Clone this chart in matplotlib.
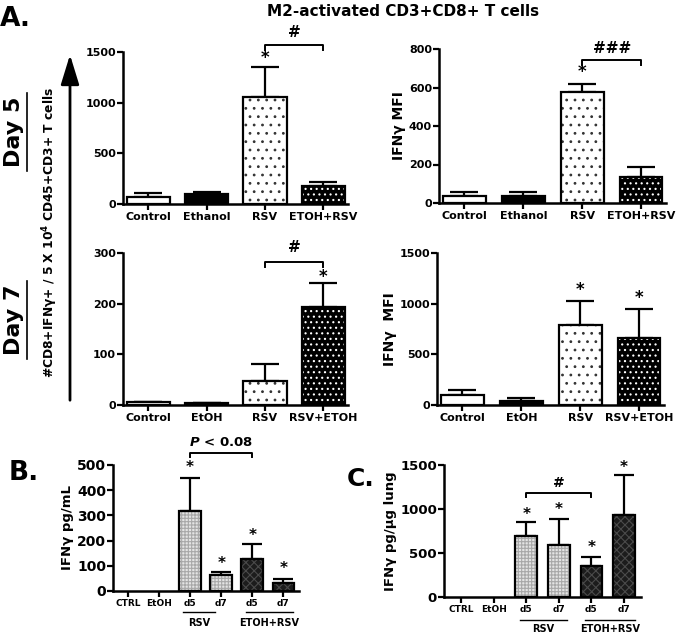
import numpy as np
import matplotlib
matplotlib.use("Agg")
import matplotlib.pyplot as plt

plt.rcParams['font.family'] = ['DejaVu Sans']
plt.rcParams['font.weight'] = 'bold'
plt.rcParams['hatch.linewidth'] = 0.8

W, H = 677, 634

# ---- data ----
a5_cats = ['Control', 'Ethanol', 'RSV', 'ETOH+RSV']
a5_cells = [70, 100, 1060, 180]
a5_cells_sem = [35, 20, 295, 35]
a5_mfi = [36, 34, 575, 135]
a5_mfi_sem = [22, 24, 42, 50]

a7_cats = ['Control', 'EtOH', 'RSV', 'RSV+ETOH']
a7_cells = [5, 3, 48, 193]
a7_cells_sem = [1, 1, 32, 47]
a7_mfi = [99, 40, 785, 665]
a7_mfi_sem = [45, 30, 240, 285]

bc_cats = ['CTRL', 'EtOH', 'd5', 'd7', 'd5', 'd7']
b_vals = [0, 0, 317, 62, 126, 32]
b_sem = [0, 0, 132, 12, 60, 15]
c_vals = [0, 0, 695, 595, 355, 935]
c_sem = [0, 0, 160, 295, 100, 450]

# pattern for each group: (face, hatch, hatch colour)
a_styles = [('white', None, 'black'), ('black', None, 'black'),
            ('white', '..', '#333333'), ('black', '...', 'white')]
bc_styles = [('white', None, 'black'), ('white', None, 'black'),
             ('#e4e4e4', '+++++', '#a8a8a8'), ('#e4e4e4', '+++++', '#a8a8a8'),
             ('#1c1c1c', 'xxxx', '#4a4a4a'), ('#1c1c1c', 'xxxx', '#4a4a4a')]


def px_axes(l, r, b, t):
    return fig.add_axes([l / W, 1 - b / H, (r - l) / W, (b - t) / H])


def bar_panel(ax, cats, vals, sem, styles, ymax, yticks, xlim, width,
              cap, tick_fs, ytick_fs):
    x = np.arange(len(cats))
    for xi, v, (fc, hatch, hc) in zip(x, vals, styles):
        if v <= 0:
            continue
        ax.bar(xi, v, width, color=fc, edgecolor=hc, hatch=hatch,
               linewidth=0, zorder=2)
        ax.bar(xi, v, width, fill=False, edgecolor='black', linewidth=1.6,
               zorder=3)
    vals = np.array(vals, float)
    sem = np.array(sem, float)
    m = sem > 0
    ax.errorbar(x[m], vals[m], yerr=[np.zeros(m.sum()), sem[m]], fmt='none',
                ecolor='black', elinewidth=1.6, capsize=cap, capthick=1.6,
                zorder=1)
    ax.set_xlim(*xlim)
    ax.set_ylim(0, ymax)
    ax.set_yticks(yticks)
    ax.set_xticks(x)
    ax.set_xticklabels(cats, fontsize=tick_fs, fontweight='bold')
    ax.tick_params(axis='y', labelsize=ytick_fs, width=1.6, length=4, pad=1)
    ax.tick_params(axis='x', width=1.6, length=4, pad=2)
    for s in ['top', 'right']:
        ax.spines[s].set_visible(False)
    for s in ['left', 'bottom']:
        ax.spines[s].set_linewidth(1.8)
    for lab in ax.get_yticklabels():
        lab.set_fontweight('bold')


def bracket(ax, x1, x2, y, drop, label, ly, fs=11, style='normal'):
    ax.plot([x1, x1, x2, x2], [y - drop, y, y, y - drop], color='black',
            lw=1.4, clip_on=False)
    ax.text((x1 + x2) / 2, ly, label, ha='center', va='center', fontsize=fs,
            fontweight='bold', fontstyle=style, clip_on=False)


def stars(ax, xs, ys, fs=12):
    for xi, yi in zip(xs, ys):
        ax.text(xi, yi, '*', ha='center', va='center', fontsize=fs,
                fontweight='bold', clip_on=False)


fig = plt.figure(figsize=(W / 100, H / 100), dpi=100)

a_xlim = (-0.43, 3.42)

# A, day 5, cell counts
ax1 = px_axes(123, 348, 204, 52)
bar_panel(ax1, a5_cats, a5_cells, a5_cells_sem, a_styles, 1500,
          [0, 500, 1000, 1500], a_xlim, 0.74, 10, 8, 8)
bracket(ax1, 2, 3, 1570, 50, '#', 1690)
stars(ax1, [2], [1445])

# A, day 5, MFI
ax2 = px_axes(439, 666, 203, 49)
bar_panel(ax2, a5_cats, a5_mfi, a5_mfi_sem, a_styles, 800,
          [0, 200, 400, 600, 800], a_xlim, 0.72, 10, 8, 8)
ax2.set_ylabel('IFNγ MFI', fontsize=10, fontweight='bold', labelpad=2)
bracket(ax2, 2, 3, 743, 26, '###', 805)
stars(ax2, [2], [678])

# A, day 7, cell counts
ax3 = px_axes(123, 348, 405, 253)
bar_panel(ax3, a7_cats, a7_cells, a7_cells_sem, a_styles, 300,
          [0, 100, 200, 300], a_xlim, 0.74, 10, 8, 8)
bracket(ax3, 2, 3, 282, 10, '#', 310)
stars(ax3, [3], [253])

# A, day 7, MFI
ax4 = px_axes(437, 664, 405, 253)
bar_panel(ax4, a7_cats, a7_mfi, a7_mfi_sem, a_styles, 1500,
          [0, 500, 1000, 1500], a_xlim, 0.72, 10, 8, 8)
ax4.set_ylabel('IFNγ  MFI', fontsize=10, fontweight='bold', labelpad=2)
stars(ax4, [2, 3], [1135, 1058])

# B
ax5 = px_axes(113, 299, 591, 465)
bar_panel(ax5, bc_cats, b_vals, b_sem, bc_styles, 500,
          [0, 100, 200, 300, 400, 500], (-0.48, 5.5), 0.7, 7, 6.5, 10)
ax5.set_ylabel('IFNγ pg/mL', fontsize=9.5, fontweight='bold', labelpad=2)
stars(ax5, [2, 3, 4, 5], [492, 111, 222, 91], fs=11)
bracket(ax5, 2, 4, 548, 16, r'$\mathbfit{P}$ < 0.08', 590, fs=9.5)

# C
ax6 = px_axes(444, 641, 597, 465)
bar_panel(ax6, bc_cats, c_vals, c_sem, bc_styles, 1500,
          [0, 500, 1000, 1500], (-0.52, 5.52), 0.66, 7, 6.5, 9.5)
ax6.set_ylabel('IFNγ pg/µg lung', fontsize=9.5, fontweight='bold', labelpad=2)
stars(ax6, [2, 3, 4, 5], [943, 989, 568, 1477], fs=11)
bracket(ax6, 2, 4, 1182, 45, '#', 1300, fs=10)

# group underlines for B and C
for ax, rsv, et, ly, ty in [(ax5, (1.77, 2.8), (3.8, 5.3), -0.167, -0.25),
                            (ax6, (1.81, 3.25), (3.8, 5.34), -0.174, -0.245)]:
    tr = ax.get_xaxis_transform()
    for (x1, x2), name in [(rsv, 'RSV'), (et, 'ETOH+RSV')]:
        ax.plot([x1, x2], [ly, ly], color='black', lw=1.0, transform=tr,
                clip_on=False)
        ax.text((x1 + x2) / 2, ty, name, transform=tr, ha='center',
                va='center', fontsize=7, fontweight='bold')

# title, panel letters
fig.text(403 / W, 1 - 11 / H, 'M2-activated CD3+CD8+ T cells', ha='center',
         va='center', fontsize=11, fontweight='bold')
fig.text(0, 1 - 6 / H, 'A.', ha='left', va='top', fontsize=19,
         fontweight='bold')
fig.text(9 / W, 1 - 460 / H, 'B.', ha='left', va='top', fontsize=19,
         fontweight='bold')
fig.text(347 / W, 1 - 467 / H, 'C.', ha='left', va='top', fontsize=18,
         fontweight='bold')

# shared y label with arrow, day labels
fig.text(50 / W, 1 - 232 / H,
         r'#CD8+IFNγ+ / 5 X 10$^\mathbf{4}$ CD45+CD3+ T cells',
         rotation=90, ha='center', va='center', fontsize=8.8,
         fontweight='bold')
fig.add_artist(matplotlib.patches.FancyArrowPatch(
    (70 / W, 1 - 403 / H), (70 / W, 1 - 52 / H), transform=fig.transFigure,
    arrowstyle='-|>,head_length=1.3,head_width=0.4', mutation_scale=14,
    lw=2, color='black'))
for label, yc in [('Day 5', 132), ('Day 7', 320)]:
    fig.text(14 / W, 1 - yc / H, label, rotation=90, ha='center',
             va='center', fontsize=16, fontweight='bold')
    fig.add_artist(matplotlib.lines.Line2D(
        [27 / W, 27 / W], [1 - (yc - 39) / H, 1 - (yc + 39) / H],
        transform=fig.transFigure, color='black', lw=1.2))

fig.savefig('out.png', dpi=100)
